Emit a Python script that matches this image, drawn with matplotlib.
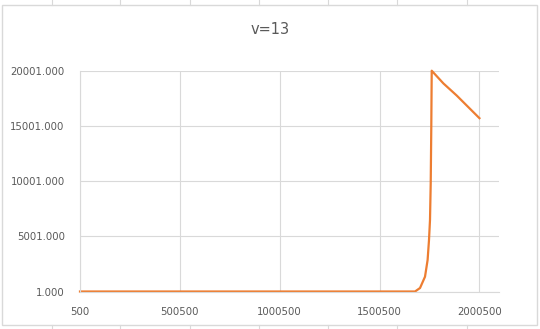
import matplotlib
matplotlib.use("Agg")
import matplotlib.pyplot as plt
from matplotlib.patches import Rectangle
from matplotlib.lines import Line2D

title = "v=13"
x_values = [500, 1000000, 1678000, 1703000, 1728000, 1741000, 1748000, 1753000,
            1756600, 1759500, 1761600, 1820000, 1886800, 1945000, 2000500]
y_values = [1, 1, 1, 317, 1340, 2853, 4665, 6477,
            9800, 15000, 20001, 18850, 17750, 16700, 15700]
x_ticks = [500, 500500, 1000500, 1500500, 2000500]
y_ticks = [1, 5001, 10001, 15001, 20001]

fig = plt.figure(figsize=(5.4, 3.29), dpi=100)
fig.patch.set_facecolor("white")

# spreadsheet cell lines around chart
for xc in [52, 120, 190, 259, 328, 397, 467]:
    fig.add_artist(Line2D([xc / 540, xc / 540], [1 - 0 / 329, 1 - 5 / 329], color="#d9d9d9", lw=0.8,
                          transform=fig.transFigure))
    fig.add_artist(Line2D([xc / 540, xc / 540], [0, 4 / 329], color="#d9d9d9", lw=0.8,
                          transform=fig.transFigure))
# chart border
fig.add_artist(Rectangle((1.5 / 540, 4 / 329), 535.5 / 540, 320 / 329, transform=fig.transFigure,
                         fill=False, edgecolor="#d9d9d9", lw=1.0))

ax = fig.add_axes([80 / 540, 37.5 / 329, 419.4 / 540, 220.8 / 329])
ax.plot(x_values, y_values, color="#ED7D31", lw=1.6, solid_joinstyle="round")
ax.set_xlim(500, 2100500)
ax.set_ylim(1, 20001)
ax.set_xticks(x_ticks)
ax.set_xticklabels([str(v) for v in x_ticks])
ax.set_yticks(y_ticks)
ax.set_yticklabels([f"{v}.000" for v in y_ticks])
ax.grid(True, color="#d9d9d9", lw=0.8)
ax.set_axisbelow(True)
for s in ["top", "right"]:
    ax.spines[s].set_visible(False)
for s in ["left", "bottom"]:
    ax.spines[s].set_color("#d9d9d9")
    ax.spines[s].set_linewidth(0.8)
ax.tick_params(length=0, labelsize=7.3, colors="#595959")
ax.tick_params(axis="x", pad=11)
ax.tick_params(axis="y", pad=11)
for lbl in ax.get_xticklabels() + ax.get_yticklabels():
    lbl.set_color("#595959")
ax.set_clip_on(False)
for line in ax.get_lines():
    line.set_clip_on(False)

fig.text(0.5, 1 - 30 / 329, title, ha="center", va="center", fontsize=10.5, color="#595959")

fig.savefig("out.png", dpi=100, facecolor="white")
